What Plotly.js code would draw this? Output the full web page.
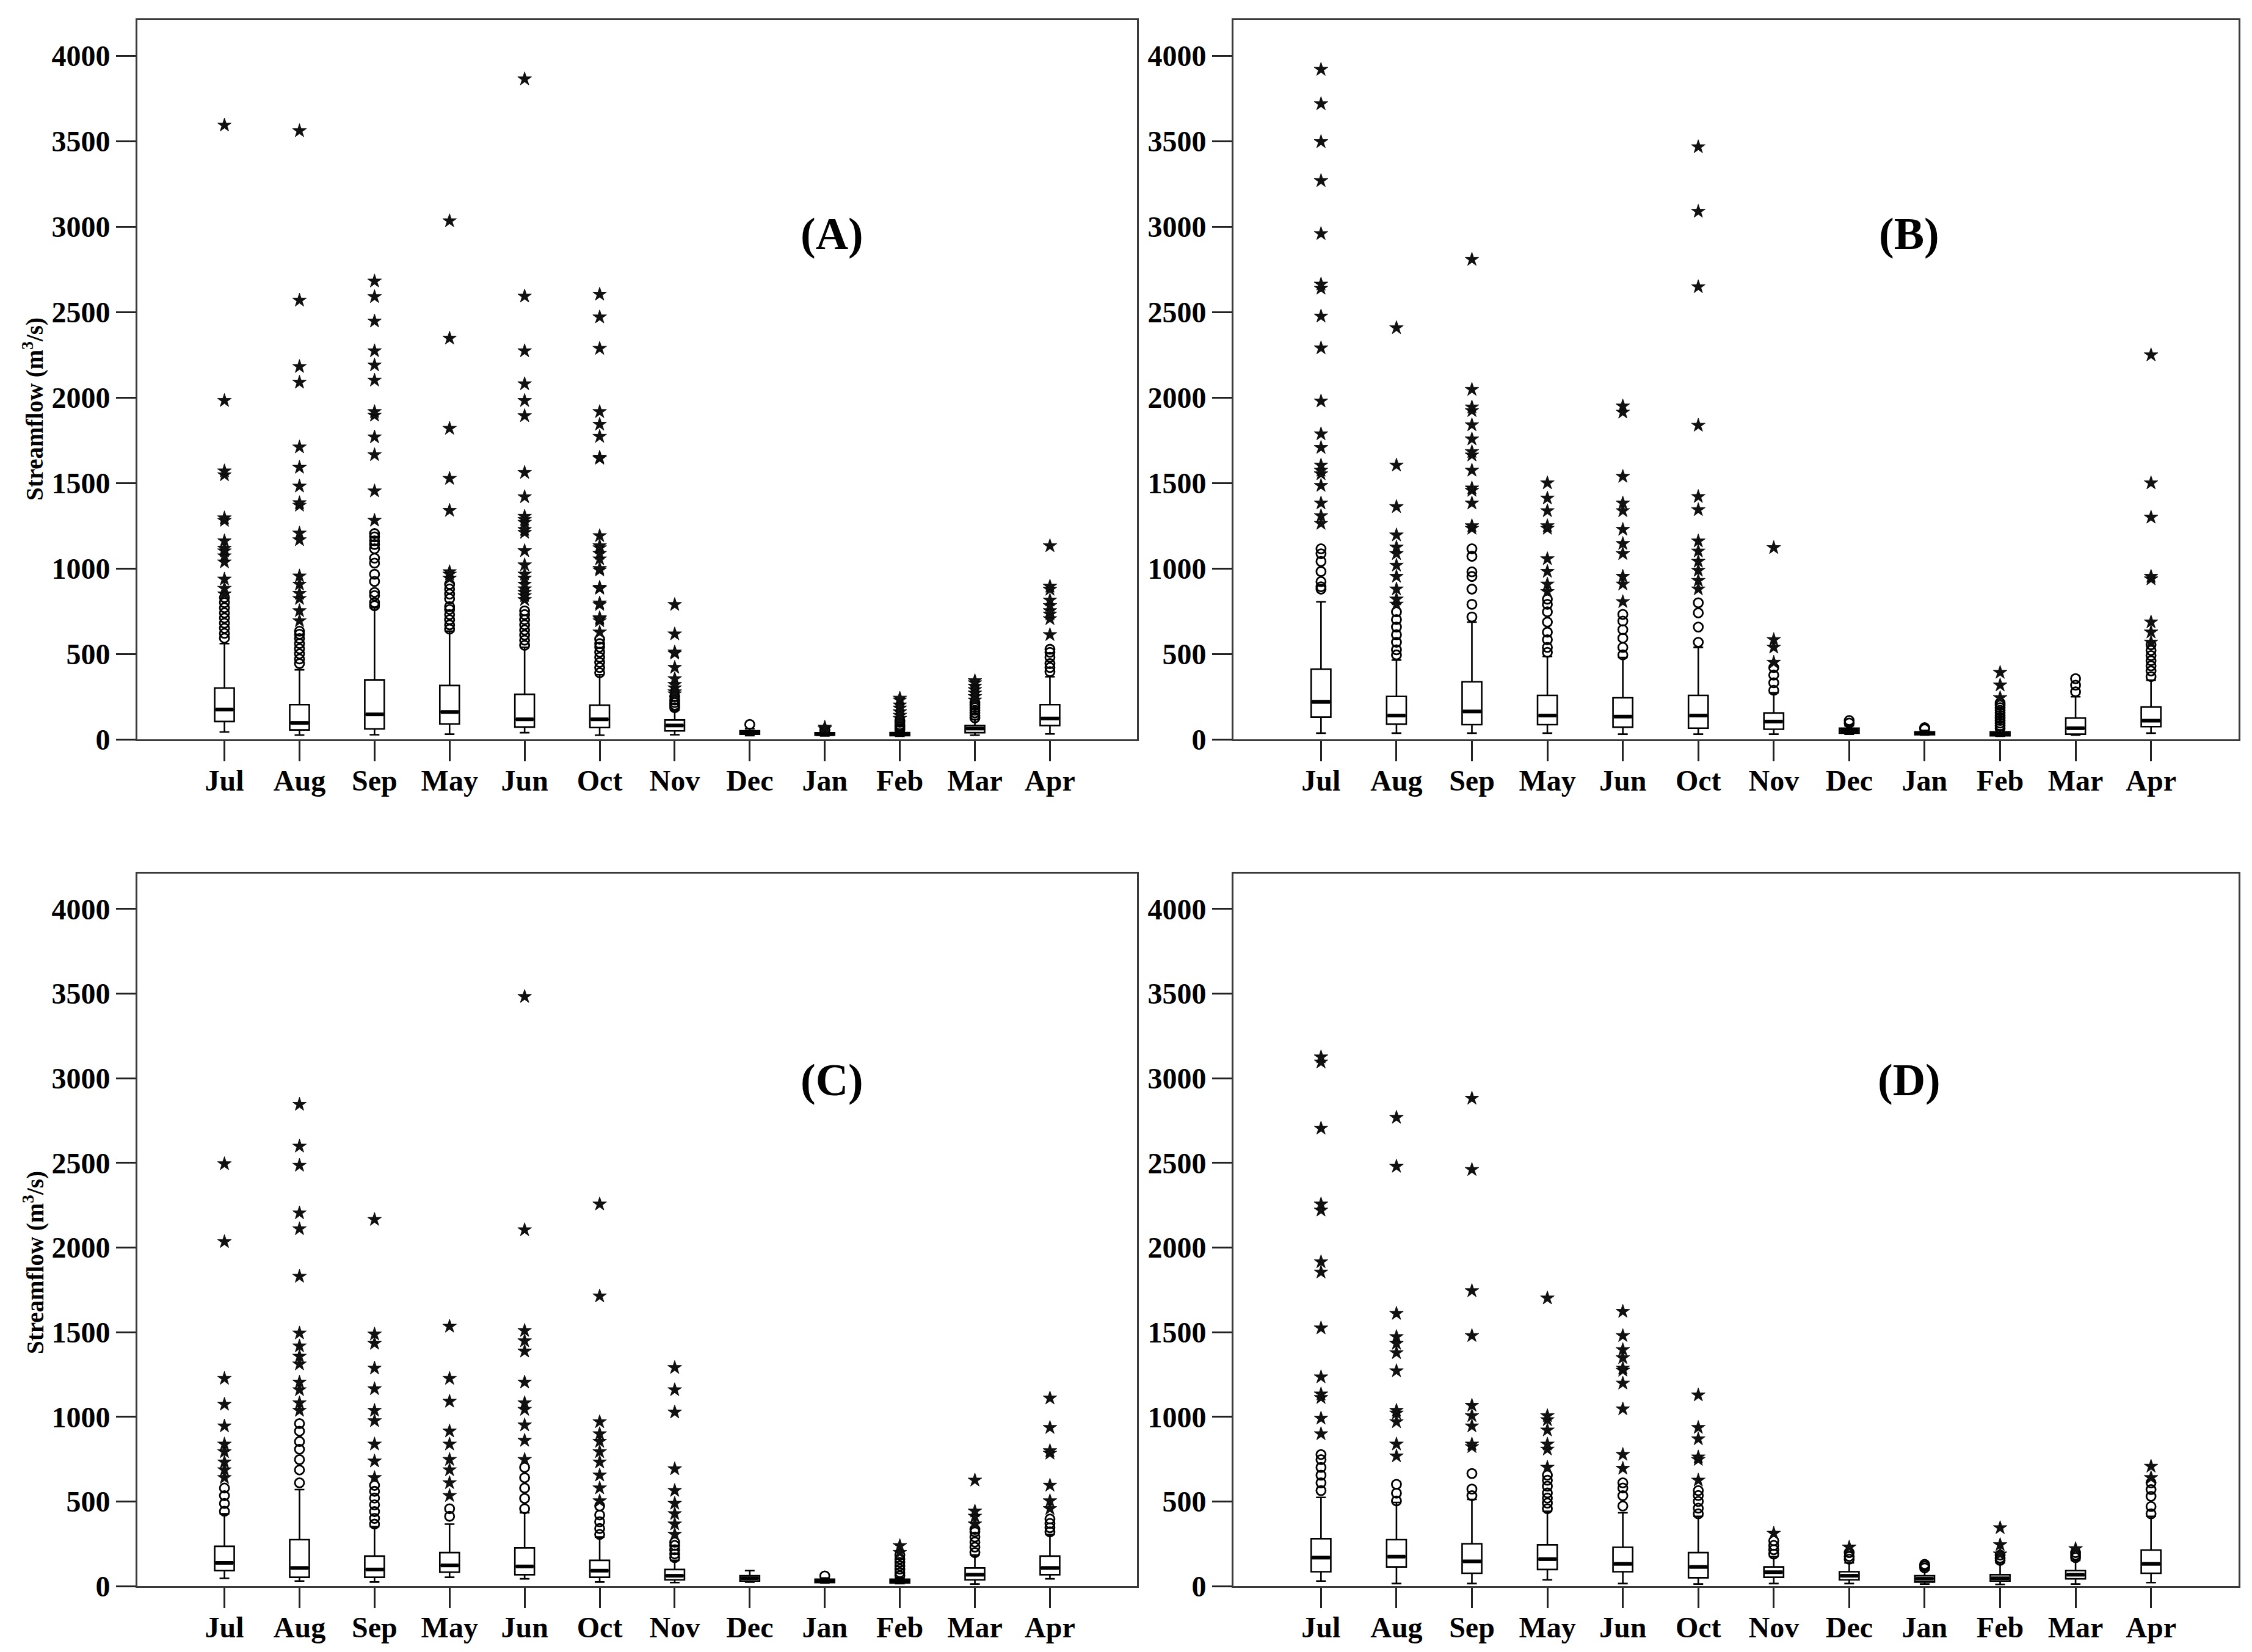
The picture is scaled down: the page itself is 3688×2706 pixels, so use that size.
<!DOCTYPE html>
<html>
<head>
<meta charset="utf-8">
<script src="https://cdn.plot.ly/plotly-3.0.1.min.js"></script>
<style>html,body{margin:0;padding:0;background:#fff;}</style>
</head>
<body>
<div id="chart" style="width:3688px;height:2706px;"></div>
<script>
// ---------------- DATA ----------------
var months = ["Jul","Aug","Sep","May","Jun","Oct","Nov","Dec","Jan","Feb","Mar","Apr"];
var yTicks = [0,500,1000,1500,2000,2500,3000,3500,4000];
var panelLabels = ["(A)","(B)","(C)","(D)"];
var yTitle = "Streamflow (m<sup>3</sup>/s)";

// Panel A
var A_lo  = [43, 25, 27, 30, 39, 24, 27, 22, 20, 18, 24, 31];
var A_q1  = [104, 55, 61, 90, 72, 69, 49, 30, 24, 22, 39, 81];
var A_med = [174, 96, 146, 160, 117, 117, 81, 40, 30, 31, 63, 122];
var A_q3  = [300, 203, 348, 315, 263, 200, 113, 50, 38, 39, 81, 203];
var A_hi  = [560, 407, 770, 633, 538, 378, 170, 62, 45, 48, 117, 366];
var A_circ = [
  [592,620,650,680,710,740,770,800,830],
  [443,470,500,530,560,590,615,633],
  [782,800,841,860,924,966,1031,1060,1115,1140,1162,1185,1204],
  [645,670,700,730,760,777,823,850,880,907],
  [550,580,610,640,670,700,730,752],
  [390,420,450,480,510,540,560,586],
  [185,200,215,230,250],
  [87],
  [50,55],
  [55,65,75,85,100,110],
  [125,140,155,170,185,200,214],
  [396,420,443,480,509,527]
];
var A_star = [
  [850,883,937,1037,1073,1102,1117,1161,1280,1295,1547,1570,1982,3594],
  [693,752,823,853,907,955,1167,1206,1369,1384,1481,1591,1710,2089,2181,2569,3561],
  [1281,1453,1665,1769,1896,1917,2101,2190,2273,2447,2590,2681],
  [942,966,980,1339,1526,1819,2347,3034],
  [817,840,859,880,907,942,966,1020,1103,1210,1227,1269,1286,1304,1419,1561,1893,1982,2080,2273,2593,3864],
  [627,693,705,711,788,797,883,889,990,999,1055,1087,1120,1132,1191,1644,1650,1772,1843,1917,2287,2471,2604],
  [265,277,300,320,354,420,503,510,616,788],
  [],
  [62,70],
  [122,140,160,182,200,229,240],
  [229,250,270,290,310,330,342],
  [612,705,732,752,782,814,877,895,1132]
];

// Panel B
var B_lo  = [36, 36, 36, 36, 30, 30, 30, 30, 25, 18, 25, 36];
var B_q1  = [130, 89, 86, 86, 71, 65, 59, 36, 27, 21, 30, 74];
var B_med = [219, 139, 163, 139, 133, 139, 104, 50, 36, 30, 65, 109];
var B_q3  = [411, 251, 337, 257, 243, 257, 154, 65, 44, 44, 124, 189];
var B_hi  = [805, 464, 686, 485, 479, 538, 272, 80, 52, 55, 249, 346];
var B_circ = [
  [879,893,923,982,1041,1086,1115],
  [494,524,568,612,657,701,746],
  [716,790,879,953,980,1071,1115],
  [509,538,583,627,686,746,790,820],
  [494,538,592,642,692,731],
  [568,657,740,799],
  [287,331,376,420],
  [95,110],
  [60,68],
  [65,80,95,110,125,140,155,170,185,200,213],
  [278,317,355],
  [367,400,430,460,490,520,553]
];
var B_star = [
  [1263,1308,1382,1485,1553,1574,1604,1707,1787,1979,2290,2476,2639,2663,2959,3269,3497,3719,3920],
  [790,820,879,953,1018,1086,1124,1195,1361,1604,2408],
  [1234,1249,1382,1456,1470,1574,1663,1683,1757,1840,1923,1944,2047,2808],
  [864,908,982,1056,1234,1249,1337,1411,1500],
  [805,908,953,1086,1145,1228,1337,1382,1538,1914,1950],
  [879,929,988,1041,1101,1160,1343,1420,1837,2648,3089,3467],
  [450,538,583,1121],
  [],
  [],
  [243,317,391],
  [],
  [568,627,686,938,953,1299,1500,2249]
];

// Panel C
var C_lo  = [46, 30, 24, 52, 43, 24, 21, 24, 18, 15, 12, 43];
var C_q1  = [91, 52, 52, 82, 67, 52, 37, 30, 21, 18, 37, 67];
var C_med = [137, 107, 98, 122, 116, 91, 61, 46, 30, 30, 67, 107];
var C_q3  = [235, 274, 177, 198, 226, 152, 98, 61, 40, 40, 107, 177];
var C_hi  = [427, 570, 351, 366, 433, 290, 152, 91, 48, 50, 183, 305];
var C_circ = [
  [442,488,534,579],
  [610,686,747,808,854,915,960],
  [366,400,440,480,520,560,595],
  [412,457],
  [457,518,579,640,701],
  [305,340,380,420,473],
  [168,190,215,240,259],
  [],
  [60],
  [61,80,100,120,140,160,183],
  [198,230,260,290,320,335],
  [320,345,370,396]
];
var C_star = [
  [640,686,732,793,838,945,1073,1226,2034,2494],
  [1037,1082,1159,1204,1311,1357,1418,1494,1829,2110,2204,2485,2598,2845],
  [640,738,838,976,1037,1165,1287,1433,1488,2165],
  [534,610,686,747,838,915,1091,1226,1534],
  [747,860,951,1043,1082,1204,1387,1448,1509,2104,3482],
  [503,579,655,732,793,854,899,970,1713,2256],
  [305,366,427,488,564,692,1027,1159,1290],
  [],
  [],
  [198,238],
  [366,412,442,625],
  [457,503,595,784,799,936,1110]
];

// Panel D
var D_lo  = [30, 15, 15, 37, 15, 12, 15, 15, 12, 10, 12, 21];
var D_q1  = [85, 113, 76, 98, 85, 49, 52, 37, 24, 30, 43, 76];
var D_med = [168, 174, 146, 159, 131, 113, 82, 61, 43, 46, 67, 131];
var D_q3  = [280, 274, 250, 244, 229, 198, 113, 85, 61, 67, 91, 213];
var D_hi  = [524, 494, 512, 442, 433, 412, 174, 137, 95, 137, 152, 412];
var D_circ = [
  [564,610,655,701,747,777],
  [503,549,601],
  [534,573,665],
  [457,490,520,550,590,625,655],
  [473,534,579,610],
  [427,460,500,535,564],
  [189,215,240,268],
  [159,175,198],
  [107,118,128],
  [152,165,183],
  [168,183,198],
  [427,470,530,570,610]
];
var D_star = [
  [899,991,1113,1134,1235,1524,1854,1915,2220,2256,2704,3095,3125],
  [768,838,970,1021,1037,1271,1378,1433,1473,1610,2479,2768],
  [823,838,945,1006,1067,1479,1744,2460,2881],
  [701,808,838,921,982,1006,1701],
  [695,777,1046,1198,1274,1287,1348,1396,1479,1622],
  [625,747,762,869,936,1128],
  [311],
  [229],
  [],
  [189,244,344],
  [220],
  [640,707]
];

// ---------------- BUILD ----------------
var panels = [
  {lo:A_lo,q1:A_q1,med:A_med,q3:A_q3,hi:A_hi,circ:A_circ,star:A_star},
  {lo:B_lo,q1:B_q1,med:B_med,q3:B_q3,hi:B_hi,circ:B_circ,star:B_star},
  {lo:C_lo,q1:C_q1,med:C_med,q3:C_q3,hi:C_hi,circ:C_circ,star:C_star},
  {lo:D_lo,q1:D_q1,med:D_med,q3:D_q3,hi:D_hi,circ:D_circ,star:D_star}
];
var idx = months.map(function(m,i){return i;});
var BOXW = 0.26;
var traces = [];
panels.forEach(function(p, k){
  var xa = k === 0 ? 'x' : 'x' + (k+1);
  var ya = k === 0 ? 'y' : 'y' + (k+1);
  traces.push({
    type:'box', x: idx, q1:p.q1, median:p.med, q3:p.q3, lowerfence:p.lo, upperfence:p.hi,
    boxpoints:false, width:BOXW, whiskerwidth:0.5,
    line:{color:'#000', width:2.6}, fillcolor:'#fff',
    xaxis:xa, yaxis:ya, showlegend:false, hoverinfo:'skip'
  });
  var mx=[], my=[];
  p.med.forEach(function(v,i){ mx.push(i-BOXW/2+0.012, i+BOXW/2-0.012, null); my.push(v, v, null); });
  traces.push({type:'scatter', mode:'lines', x:mx, y:my, line:{color:'#000', width:6},
    xaxis:xa, yaxis:ya, showlegend:false, hoverinfo:'skip'});
  var cx=[], cy=[];
  p.circ.forEach(function(arr,i){ arr.forEach(function(v){ cx.push(i); cy.push(v); }); });
  traces.push({type:'scatter', mode:'markers', x:cx, y:cy,
    marker:{symbol:'circle-open', size:15, color:'#000', line:{width:2.8, color:'#000'}},
    xaxis:xa, yaxis:ya, showlegend:false, hoverinfo:'skip'});
  var sx=[], sy=[];
  p.star.forEach(function(arr,i){ arr.forEach(function(v){ sx.push(i); sy.push(v); }); });
  traces.push({type:'scatter', mode:'markers', x:sx, y:sy,
    marker:{symbol:'star', size:17, color:'#111', line:{width:0.8, color:'#000'}},
    xaxis:xa, yaxis:ya, showlegend:false, hoverinfo:'skip'});
});

var W = 3688, H = 2706;
var tickFont = {family:'Liberation Serif', size:48, color:'#000', weight:'bold'};
function xAxis(d, anchor){
  return {domain:d, anchor:anchor, range:[-1.16, 12.16], tickmode:'array', tickvals:idx,
    ticktext:months, ticks:'outside', ticklen:33, tickwidth:3, tickcolor:'#222',
    ticklabelstandoff:-10,
    showline:true, linecolor:'#3a3a3a', linewidth:3, mirror:true,
    showgrid:false, zeroline:false, tickfont:tickFont, fixedrange:true};
}
function yAxis(d, anchor){
  return {domain:d, anchor:anchor, range:[0, 4210], tickmode:'array', tickvals:yTicks,
    ticktext:yTicks.map(String), ticks:'outside', ticklen:32, tickwidth:3, tickcolor:'#222',
    showline:true, linecolor:'#3a3a3a', linewidth:3, mirror:true,
    showgrid:false, zeroline:false, tickfont:tickFont, fixedrange:true};
}
var xL = [225/W, 1862/W], xR = [2020/W, 3666/W];
var yT = [1-1211/H, 1-32.7/H], yB = [1-2598/H, 1-1430.7/H];

var ann = [];
var labelPos = [[1362,383],[3126,383],[1362,1769],[3126,1769]];
panelLabels.forEach(function(t,k){
  ann.push({xref:'paper', yref:'paper', x:labelPos[k][0]/W, y:1-labelPos[k][1]/H,
    text:'<b>'+t+'</b>', showarrow:false, xanchor:'center', yanchor:'middle',
    font:{family:'Liberation Serif', size:74, color:'#000'}});
});
[[55,670],[55,2068]].forEach(function(p){
  ann.push({xref:'paper', yref:'paper', x:p[0]/W, y:1-p[1]/H, text:'<b>'+yTitle+'</b>',
    textangle:-90, showarrow:false, xanchor:'center', yanchor:'middle',
    font:{family:'Liberation Serif', size:39, color:'#000'}});
});

var layout = {
  width:W, height:H, margin:{l:0,r:0,t:0,b:0,pad:0},
  paper_bgcolor:'#fff', plot_bgcolor:'#fff', showlegend:false,
  xaxis: xAxis(xL,'y'),  yaxis: yAxis(yT,'x'),
  xaxis2: xAxis(xR,'y2'), yaxis2: yAxis(yT,'x2'),
  xaxis3: xAxis(xL,'y3'), yaxis3: yAxis(yB,'x3'),
  xaxis4: xAxis(xR,'y4'), yaxis4: yAxis(yB,'x4'),
  annotations: ann
};
Plotly.newPlot('chart', traces, layout, {staticPlot:true, displayModeBar:false});
</script>
</body>
</html>
